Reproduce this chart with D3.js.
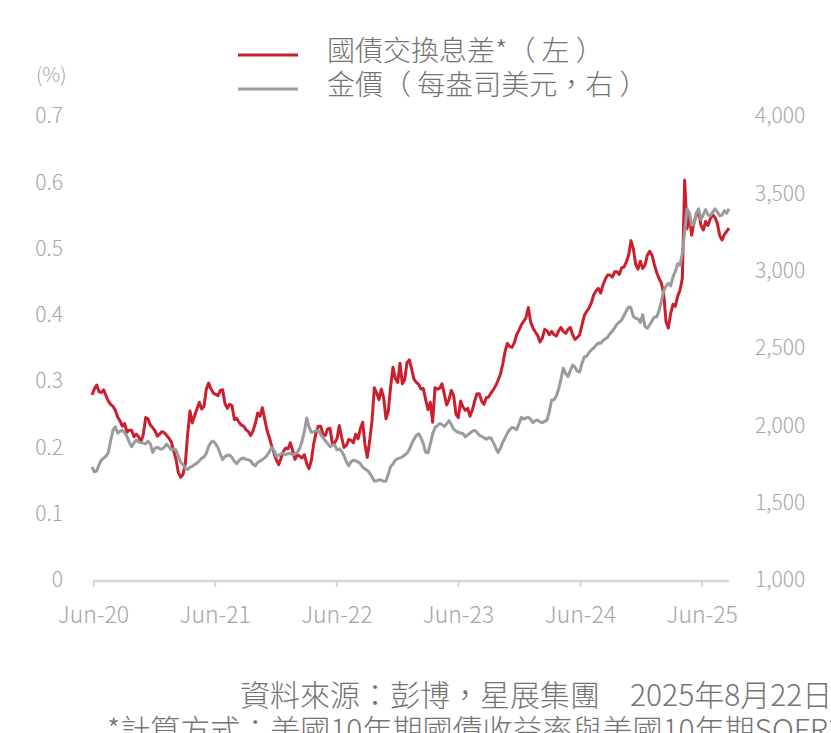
<!DOCTYPE html>
<html lang="zh-Hant">
<head>
<meta charset="utf-8">
<script src="https://cdn.jsdelivr.net/npm/d3@7"></script>
<style>
  body { margin: 0; background: #fff; }
  svg { display: block; }
</style>
</head>
<body>
<svg id="chart" width="831" height="733" lang="zh-Hant"></svg>
<script>
// series labels
const seriesNames = ['國債交換息差*（ 左 ）', '金價（ 每盎司美元，右 ）']
const seriesColors = ['#cc1f2e', '#9b9b9d']

// axis ticks
const xTickDates = ['2020-06-01', '2021-06-01', '2022-06-01', '2023-06-01', '2024-06-01', '2025-06-01']
const leftTicks = [0, 0.1, 0.2, 0.3, 0.4, 0.5, 0.6, 0.7]
const rightTicks = [1000, 1500, 2000, 2500, 3000, 3500, 4000]

// weekly (Friday) closes, 29 May 2020 – 22 Aug 2025
const weeks = d3.timeFriday.range(new Date(2020, 4, 29), new Date(2025, 7, 23))

// US 10y Treasury minus 10y SOFR swap, %
const spread = [
  0.279, 0.288, 0.294, 0.284, 0.283, 0.287, 0.278, 0.270, 0.265, 0.262,
  0.256, 0.246, 0.240, 0.232, 0.236, 0.223, 0.226, 0.226, 0.216, 0.220,
  0.216, 0.208, 0.220, 0.245, 0.243, 0.234, 0.230, 0.225, 0.217, 0.220,
  0.224, 0.222, 0.218, 0.214, 0.208, 0.195, 0.182, 0.162, 0.155, 0.159,
  0.176, 0.220, 0.255, 0.237, 0.248, 0.258, 0.268, 0.258, 0.262, 0.288,
  0.297, 0.288, 0.282, 0.280, 0.278, 0.286, 0.287, 0.266, 0.259, 0.265,
  0.263, 0.242, 0.244, 0.238, 0.234, 0.232, 0.227, 0.224, 0.218, 0.225,
  0.236, 0.252, 0.247, 0.260, 0.243, 0.226, 0.215, 0.202, 0.192, 0.181,
  0.174, 0.184, 0.194, 0.199, 0.198, 0.207, 0.195, 0.182, 0.189, 0.187,
  0.184, 0.189, 0.176, 0.168, 0.180, 0.205, 0.222, 0.232, 0.232, 0.220,
  0.218, 0.228, 0.229, 0.206, 0.207, 0.213, 0.233, 0.215, 0.200, 0.203,
  0.212, 0.211, 0.207, 0.220, 0.213, 0.228, 0.238, 0.204, 0.185, 0.210,
  0.240, 0.290, 0.282, 0.272, 0.288, 0.275, 0.243, 0.255, 0.292, 0.321,
  0.304, 0.298, 0.327, 0.296, 0.302, 0.328, 0.332, 0.318, 0.303, 0.298,
  0.295, 0.288, 0.289, 0.272, 0.257, 0.268, 0.238, 0.290, 0.288, 0.289,
  0.296, 0.280, 0.264, 0.272, 0.286, 0.278, 0.250, 0.245, 0.270, 0.261,
  0.256, 0.259, 0.247, 0.256, 0.270, 0.281, 0.281, 0.270, 0.265, 0.275,
  0.276, 0.282, 0.287, 0.293, 0.301, 0.310, 0.325, 0.344, 0.357, 0.352,
  0.351, 0.358, 0.370, 0.377, 0.385, 0.390, 0.396, 0.411, 0.389, 0.380,
  0.374, 0.369, 0.359, 0.365, 0.378, 0.376, 0.370, 0.375, 0.370, 0.368,
  0.376, 0.381, 0.375, 0.372, 0.378, 0.381, 0.370, 0.363, 0.366, 0.370,
  0.385, 0.399, 0.405, 0.410, 0.418, 0.430, 0.436, 0.440, 0.433, 0.445,
  0.454, 0.460, 0.460, 0.457, 0.465, 0.465, 0.461, 0.471, 0.472, 0.480,
  0.490, 0.512, 0.500, 0.476, 0.469, 0.481, 0.470, 0.475, 0.490, 0.496,
  0.490, 0.476, 0.464, 0.455, 0.448, 0.432, 0.390, 0.380, 0.402, 0.416,
  0.413, 0.428, 0.437, 0.455, 0.603, 0.530, 0.550, 0.520, 0.540, 0.550,
  0.556, 0.535, 0.528, 0.541, 0.535, 0.545, 0.551, 0.547, 0.538, 0.520,
  0.513, 0.521, 0.526, 0.531,
]

// gold, USD per ounce
const gold = [
  1731, 1700, 1705, 1745, 1776, 1788, 1800, 1825, 1900, 1970,
  1990, 1950, 1962, 1968, 1952, 1928, 1890, 1862, 1888, 1905,
  1892, 1888, 1885, 1880, 1898, 1880, 1825, 1852, 1858, 1848,
  1845, 1860, 1878, 1862, 1842, 1848, 1841, 1800, 1762, 1745,
  1722, 1715, 1730, 1735, 1748, 1756, 1770, 1788, 1795, 1820,
  1865, 1890, 1898, 1880, 1855, 1815, 1778, 1798, 1806, 1808,
  1792, 1768, 1752, 1772, 1784, 1789, 1780, 1777, 1770, 1748,
  1738, 1760, 1770, 1778, 1790, 1805, 1828, 1858, 1838, 1800,
  1806, 1815, 1820, 1810, 1816, 1820, 1810, 1815, 1825, 1850,
  1895, 1960, 2047, 1990, 1955, 1957, 1965, 1968, 1942, 1920,
  1900, 1882, 1862, 1872, 1875, 1842, 1848, 1832, 1805, 1765,
  1738, 1765, 1775, 1771, 1764, 1752, 1730, 1718, 1708, 1692,
  1666, 1640, 1640, 1648, 1645, 1638, 1640, 1685, 1735, 1750,
  1775, 1785, 1790, 1796, 1808, 1820, 1845, 1880, 1910, 1935,
  1945, 1920, 1880, 1825, 1822, 1880, 1945, 1985, 1998, 2012,
  2005, 1993, 2010, 2030, 2005, 1975, 1962, 1955, 1950, 1946,
  1926, 1938, 1950, 1962, 1968, 1955, 1935, 1928, 1920, 1910,
  1920, 1918, 1890, 1855, 1825, 1850, 1890, 1918, 1950, 1972,
  1986, 1982, 1972, 2010, 2052, 2040, 2048, 2052, 2038, 2017,
  2030, 2034, 2022, 2016, 2026, 2034, 2090, 2164, 2165, 2190,
  2235, 2300, 2370, 2335, 2315, 2355, 2390, 2375, 2350, 2345,
  2400, 2442, 2448, 2470, 2488, 2500, 2518, 2532, 2530, 2548,
  2560, 2570, 2592, 2610, 2630, 2655, 2668, 2680, 2710, 2740,
  2765, 2760, 2705, 2692, 2688, 2665, 2715, 2640, 2628, 2650,
  2675, 2700, 2700, 2740, 2800, 2870, 2900, 2918, 2902, 2960,
  2995, 3045, 3035, 3110, 3250, 3400, 3375, 3295, 3300, 3375,
  3400, 3330, 3362, 3395, 3360, 3356, 3378, 3400, 3380, 3355,
  3360, 3388, 3372, 3400,
]

const sourceText = '資料來源：彭博，星展集團　2025年8月22日'
const noteText = '*計算方式：美國10年期國債收益率與美國10年期SOFR交換利率之差'

const cjk = '"Noto Sans CJK TC", "Noto Sans", sans-serif'
const labelColor = '#a6a6a6'
const textColor = '#737373'

const svg = d3.select('#chart')
const parse = d3.timeParse('%Y-%m-%d')

const x = d3.scaleTime()
  .domain([new Date(2020, 5, 1), new Date(2025, 7, 22)])
  .range([93, 729])
const yLeft = d3.scaleLinear().domain([0, 0.7]).range([580, 116])
const yRight = d3.scaleLinear().domain([1000, 4000]).range([580, 116])

// Lines (red first, gray on top)
const spreadLine = d3.line()
  .x((d, i) => x(weeks[i]))
  .y(d => yLeft(d))
const goldLine = d3.line()
  .x((d, i) => x(weeks[i]))
  .y(d => yRight(d))

svg.append('path')
  .datum(spread)
  .attr('fill', 'none')
  .attr('stroke', seriesColors[0])
  .attr('stroke-width', 3)
  .attr('stroke-linejoin', 'round')
  .attr('d', spreadLine)

svg.append('path')
  .datum(gold)
  .attr('fill', 'none')
  .attr('stroke', seriesColors[1])
  .attr('stroke-width', 3)
  .attr('stroke-linejoin', 'round')
  .attr('d', goldLine)

// X axis
const xAxis = svg.append('g')
  .attr('transform', `translate(0,${yLeft(0) + 1})`)
  .call(d3.axisBottom(x)
    .tickValues(xTickDates.map(parse))
    .tickFormat(d3.timeFormat('%b-%y'))
    .tickSize(6)
    .tickPadding(20))
xAxis.select('.domain')
  .attr('d', `M${x.range()[0]},0H${x.range()[1]}`)
  .attr('stroke', '#d6d6d6')
  .attr('stroke-width', 2.5)
xAxis.selectAll('.tick line').attr('stroke', '#d6d6d6').attr('stroke-width', 2)
xAxis.selectAll('.tick text')
  .attr('fill', labelColor)
  .attr('font-family', cjk)
  .attr('font-weight', 300)
  .attr('font-size', 23)

// Left axis
const leftAxis = svg.append('g')
  .attr('transform', 'translate(63,0)')
  .call(d3.axisLeft(yLeft).tickValues(leftTicks).tickFormat(d3.format('~g')).tickSize(0).tickPadding(0))
leftAxis.select('.domain').remove()
leftAxis.selectAll('.tick text')
  .attr('fill', labelColor)
  .attr('font-family', cjk)
  .attr('font-weight', 300)
  .attr('font-size', 21)

// Right axis
const rightAxis = svg.append('g')
  .attr('transform', 'translate(755,0)')
  .call(d3.axisRight(yRight).tickValues(rightTicks).tickFormat(d3.format(',')).tickSize(0).tickPadding(0))
rightAxis.select('.domain').remove()
rightAxis.selectAll('.tick text')
  .attr('fill', labelColor)
  .attr('font-family', cjk)
  .attr('font-weight', 300)
  .attr('font-size', 21)

// unit
svg.append('text')
  .attr('x', 36).attr('y', 73)
  .attr('dominant-baseline', 'central')
  .attr('fill', labelColor)
  .attr('font-family', cjk)
  .attr('font-weight', 300)
  .attr('font-size', 20)
  .text('(%)')

// Legend
const legend = svg.append('g')
seriesNames.forEach((name, i) => {
  const cy = 55 + i * 34
  legend.append('line')
    .attr('x1', 238).attr('x2', 298)
    .attr('y1', cy).attr('y2', cy)
    .attr('stroke', seriesColors[i])
    .attr('stroke-width', 3)
  legend.append('text')
    .attr('x', 327).attr('y', cy - 6)
    .attr('dominant-baseline', 'central')
    .attr('fill', textColor)
    .attr('font-family', cjk)
    .attr('font-weight', 300)
    .attr('font-size', 28)
    .text(name)
})

// Source and note
svg.append('text')
  .attr('x', 240).attr('y', 693)
  .attr('dominant-baseline', 'central')
  .attr('fill', textColor)
  .attr('font-family', cjk)
  .attr('font-weight', 300)
  .attr('font-size', 30)
  .text(sourceText)

svg.append('text')
  .attr('x', 107).attr('y', 728)
  .attr('dominant-baseline', 'central')
  .attr('fill', textColor)
  .attr('font-family', cjk)
  .attr('font-weight', 300)
  .attr('font-size', 30)
  .text(noteText)
</script>
</body>
</html>
